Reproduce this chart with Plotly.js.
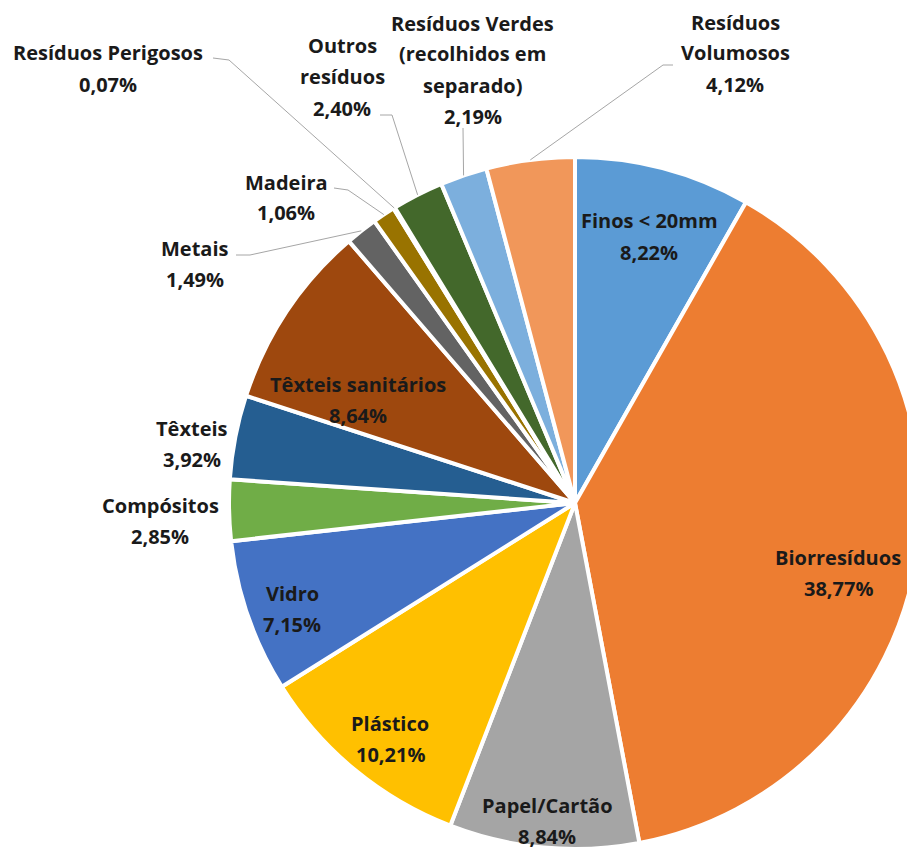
<!DOCTYPE html>
<html><head><meta charset="utf-8">
<script src="https://cdn.plot.ly/plotly-3.0.1.min.js"></script>
<style>html,body{margin:0;padding:0;overflow:hidden;background:#fff}#chart{width:930px;height:854px}</style>
</head><body><div id="chart"></div>
<script>
// ---- data ----
const categories = ["Finos < 20mm","Biorresíduos","Papel/Cartão","Plástico","Vidro","Compósitos","Têxteis","Têxteis sanitários","Metais","Madeira","Resíduos Perigosos","Outros resíduos","Resíduos Verdes (recolhidos em separado)","Resíduos Volumosos"];
const values = [8.22,38.77,8.84,10.21,7.15,2.85,3.92,8.64,1.49,1.06,0.07,2.40,2.19,4.12];
const labelLines = [["Finos < 20mm"],["Biorresíduos"],["Papel/Cartão"],["Plástico"],["Vidro"],["Compósitos"],["Têxteis"],["Têxteis sanitários"],["Metais"],["Madeira"],["Resíduos Perigosos"],["Outros","resíduos"],["Resíduos Verdes","(recolhidos em","separado)"],["Resíduos","Volumosos"]];
const colors = ["#5B9BD5","#ED7D31","#A5A5A5","#FFC000","#4472C4","#70AD47","#255E91","#9E480E","#636363","#997300","#264478","#43682B","#7CAFDD","#F1975A"];

// ---- layout geometry (pixels) ----
const W = 930, H = 854, CX = 575, CY = 503, R = 346, STEP = 31;
const labelPos = [
  {x:649, y:221},
  {x:838, y:557},
  {x:547, y:805},
  {x:390, y:723},
  {x:292, y:593},
  {x:160, y:505},
  {x:192, y:428},
  {x:358, y:384},
  {x:195, y:248, lead:[[236,255],[250,255]]},
  {x:286, y:182, lead:[[334,188],[348,190]]},
  {x:108, y:53, lead:[[213,58],[229,60]]},
  {x:342, y:46, lead:[[380,115],[392,115]]},
  {x:473, y:23, lead:[[463,128]]},
  {x:735, y:22, lead:[[673,65],[663,65]]}
];

const px = v => v / W, py = v => 1 - v / H;
const fontFam = "'Open Sans', sans-serif";
const textColor = "#1a1a1a";
const fmt = v => v.toFixed(2).replace('.', ',') + '%';

const total = values.reduce((a,b)=>a+b,0);
const annotations = [], shapes = [];
let cum = 0;
values.forEach((v,i) => {
  const mid = (cum + v/2) / total * 2 * Math.PI;
  cum += v;
  const p = labelPos[i];
  const lines = labelLines[i].concat([fmt(v)]);
  lines.forEach((t,k) => {
    annotations.push({xref:'paper', yref:'paper', x:px(p.x), y:py(p.y + k*STEP),
      xanchor:'center', yanchor:'middle', showarrow:false, text:t,
      font:{family:fontFam, size:20, color:textColor, weight:700}});
  });
  if (p.lead) {
    const ex = CX + R*Math.sin(mid), ey = CY - R*Math.cos(mid);
    const pts = p.lead.concat([[ex,ey]]);
    const path = pts.map((q,k)=> (k?'L':'M') + px(q[0]) + ',' + py(q[1])).join(' ');
    shapes.push({type:'path', xref:'paper', yref:'paper', path:path, line:{color:'#A6A6A6', width:1}});
  }
});

const trace = {
  type:'pie', labels:categories, values:values, sort:false, direction:'clockwise', rotation:0,
  marker:{colors:colors, line:{color:'#ffffff', width:4}},
  textinfo:'none', hoverinfo:'label+percent', showlegend:false,
  domain:{x:[(CX-R)/W, (CX+R)/W], y:[1-(CY+R)/H, 1-(CY-R)/H]}
};
Plotly.newPlot('chart', [trace], {
  width:W, height:H, margin:{l:0,r:0,t:0,b:0}, paper_bgcolor:'#fff',
  showlegend:false, annotations:annotations, shapes:shapes
}, {displayModeBar:false, staticPlot:true});
</script></body></html>
